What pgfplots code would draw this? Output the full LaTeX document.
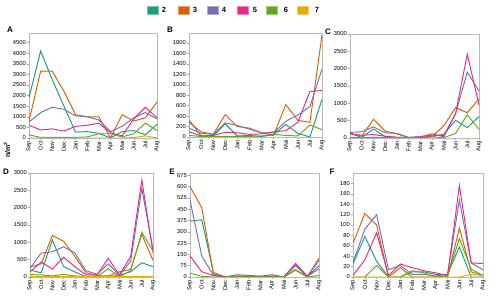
\documentclass[border=0pt]{standalone}
\usepackage{fontspec}
\setmainfont{Liberation Sans}
\usepackage{pgfplots}
\pgfplotsset{compat=1.18}

% Dark2 palette, one colour per group
\definecolor{g2}{HTML}{1B9E77}
\definecolor{g3}{HTML}{D95F02}
\definecolor{g4}{HTML}{7570B3}
\definecolor{g5}{HTML}{E7298A}
\definecolor{g6}{HTML}{66A61E}
\definecolor{g7}{HTML}{E6AB02}

\newcommand{\ticksize}{\fontsize{5.8}{6.5}\selectfont}

\pgfplotsset{
  panel/.style={
    scale only axis,
    xmin=0, xmax=11,
    xtick={0,...,11},
    xticklabels={Sep,Oct,Nov,Dec,Jan,Feb,Mar,Apr,Mai,Jun,Jul,Aug},
    x tick label style={rotate=90, anchor=east, font=\ticksize, inner sep=1pt},
    y tick label style={font=\ticksize, inner sep=1pt},
    /pgf/number format/1000 sep={},
    /pgf/number format/assume math mode=true,
    scaled y ticks=false,
    tick align=outside,
    xtick pos=bottom, ytick pos=left,
    major tick length=2pt,
    tick style={gray!70, line width=0.4pt},
    axis line style={gray!55, line width=0.9pt},
    every axis plot/.append style={line width=0.95pt, mark=none},
    clip=true,
  },
}

\begin{document}
\begin{tikzpicture}[x=1pt,y=1pt]
\path[use as bounding box] (0,0) rectangle (500,307);

% ---------------- A ----------------
\begin{axis}[panel, at={(29pt,169pt)}, anchor=south west,
  width=128pt, height=105pt, ymin=0, ymax=4950,
  ytick={0,500,...,4500}]
\addplot[g2] coordinates {(0,1900)(1,4100)(2,2750)(3,1500)(4,280)(5,300)(6,220)(7,0)(8,300)(9,350)(10,150)(11,650)};
\addplot[g3] coordinates {(0,800)(1,3150)(2,3150)(3,2200)(4,1100)(5,1000)(6,1000)(7,0)(8,1100)(9,800)(10,950)(11,1700)};
\addplot[g4] coordinates {(0,750)(1,1200)(2,1450)(3,1350)(4,1050)(5,1000)(6,850)(7,300)(8,550)(9,950)(10,1200)(11,900)};
\addplot[g5] coordinates {(0,600)(1,380)(2,430)(3,330)(4,550)(5,600)(6,700)(7,250)(8,100)(9,900)(10,1450)(11,950)};
\addplot[g6] coordinates {(0,150)(1,30)(2,30)(3,30)(4,30)(5,50)(6,200)(7,200)(8,50)(9,200)(10,700)(11,350)};
\addplot[g7] coordinates {(0,0)(1,0)(2,0)(3,0)(4,0)(5,0)(6,0)(7,0)(8,0)(9,20)(10,100)(11,0)};
\end{axis}

% ---------------- B ----------------
\begin{axis}[panel, at={(189pt,170pt)}, anchor=south west,
  width=133pt, height=104pt, ymin=0, ymax=1990,
  ytick={0,200,...,1800}]
\addplot[g2] coordinates {(0,330)(1,20)(2,20)(3,250)(4,20)(5,30)(6,10)(7,40)(8,240)(9,70)(10,0)(11,720)};
\addplot[g3] coordinates {(0,280)(1,100)(2,50)(3,430)(4,200)(5,170)(6,80)(7,30)(8,620)(9,320)(10,280)(11,1950)};
\addplot[g4] coordinates {(0,170)(1,70)(2,50)(3,270)(4,220)(5,150)(6,80)(7,80)(8,300)(9,420)(10,580)(11,1300)};
\addplot[g5] coordinates {(0,100)(1,20)(2,30)(3,90)(4,80)(5,50)(6,60)(7,100)(8,120)(9,280)(10,870)(11,890)};
\addplot[g6] coordinates {(0,30)(1,10)(2,10)(3,10)(4,10)(5,10)(6,20)(7,50)(8,30)(9,20)(10,230)(11,140)};
\addplot[g7] coordinates {(0,0)(1,0)(2,0)(3,0)(4,0)(5,0)(6,0)(7,0)(8,0)(9,0)(10,0)(11,0)};
\end{axis}

% ---------------- C ----------------
\begin{axis}[panel, at={(350pt,169pt)}, anchor=south west,
  width=129pt, height=104pt, ymin=0, ymax=3000,
  ytick={0,500,...,3000}]
\addplot[g2] coordinates {(0,140)(1,10)(2,260)(3,40)(4,20)(5,10)(6,10)(7,40)(8,110)(9,510)(10,300)(11,620)};
\addplot[g3] coordinates {(0,130)(1,50)(2,540)(3,200)(4,120)(5,10)(6,20)(7,50)(8,350)(9,880)(10,730)(11,1130)};
\addplot[g4] coordinates {(0,160)(1,180)(2,320)(3,150)(4,130)(5,20)(6,40)(7,80)(8,70)(9,700)(10,1900)(11,1350)};
\addplot[g5] coordinates {(0,120)(1,80)(2,100)(3,50)(4,20)(5,10)(6,30)(7,120)(8,40)(9,700)(10,2420)(11,950)};
\addplot[g6] coordinates {(0,10)(1,10)(2,10)(3,10)(4,10)(5,10)(6,10)(7,30)(8,10)(9,130)(10,670)(11,250)};
\addplot[g7] coordinates {(0,0)(1,0)(2,0)(3,0)(4,0)(5,0)(6,0)(7,0)(8,0)(9,0)(10,0)(11,0)};
\end{axis}

% ---------------- D ----------------
\begin{axis}[panel, at={(30pt,30pt)}, anchor=south west,
  width=123pt, height=104pt, ymin=0, ymax=3000,
  ytick={0,500,...,3000}]
\addplot[g2] coordinates {(0,200)(1,120)(2,1070)(3,300)(4,150)(5,10)(6,10)(7,10)(8,50)(9,150)(10,410)(11,300)};
\addplot[g3] coordinates {(0,290)(1,380)(2,1200)(3,1030)(4,600)(5,120)(6,40)(7,30)(8,150)(9,220)(10,1230)(11,480)};
\addplot[g4] coordinates {(0,250)(1,690)(2,730)(3,870)(4,700)(5,180)(6,80)(7,380)(8,50)(9,450)(10,2550)(11,800)};
\addplot[g5] coordinates {(0,150)(1,430)(2,230)(3,570)(4,300)(5,60)(6,60)(7,540)(8,60)(9,590)(10,2800)(11,700)};
\addplot[g6] coordinates {(0,70)(1,60)(2,30)(3,80)(4,30)(5,10)(6,10)(7,240)(8,10)(9,180)(10,1290)(11,750)};
\addplot[g7, line width=1.3pt] coordinates {(0,10)(1,10)(2,10)(3,10)(4,10)(5,10)(6,10)(7,10)(8,10)(9,10)(10,10)(11,10)};
\end{axis}

% ---------------- E ----------------
\begin{axis}[panel, at={(190pt,30pt)}, anchor=south west,
  width=129pt, height=104pt, ymin=0, ymax=690,
  ytick={0,75,...,675}]
\addplot[g2] coordinates {(0,370)(1,380)(2,30)(3,0)(4,5)(5,5)(6,0)(7,5)(8,0)(9,75)(10,5)(11,75)};
\addplot[g3] coordinates {(0,600)(1,460)(2,20)(3,0)(4,5)(5,5)(6,0)(7,5)(8,0)(9,50)(10,0)(11,125)};
\addplot[g4] coordinates {(0,510)(1,140)(2,10)(3,0)(4,5)(5,5)(6,5)(7,5)(8,0)(9,80)(10,5)(11,110)};
\addplot[g5] coordinates {(0,140)(1,35)(2,10)(3,0)(4,15)(5,10)(6,5)(7,15)(8,0)(9,90)(10,5)(11,55)};
\addplot[g6] coordinates {(0,25)(1,5)(2,0)(3,0)(4,5)(5,5)(6,5)(7,5)(8,0)(9,45)(10,0)(11,10)};
\addplot[g7] coordinates {(0,0)(1,0)(2,0)(3,0)(4,0)(5,0)(6,0)(7,0)(8,0)(9,0)(10,0)(11,0)};
\end{axis}

% ---------------- F ----------------
\begin{axis}[panel, at={(353pt,30pt)}, anchor=south west,
  width=130pt, height=104pt, ymin=0, ymax=200,
  ytick={0,20,...,180}]
\addplot[g2] coordinates {(0,25)(1,78)(2,30)(3,0)(4,0)(5,10)(6,10)(7,5)(8,5)(9,58)(10,0)(11,0)};
\addplot[g3] coordinates {(0,65)(1,122)(2,100)(3,0)(4,18)(5,0)(6,0)(7,0)(8,0)(9,94)(10,10)(11,2)};
\addplot[g4] coordinates {(0,28)(1,92)(2,120)(3,14)(4,22)(5,5)(6,5)(7,2)(8,5)(9,148)(10,27)(11,14)};
\addplot[g5] coordinates {(0,3)(1,33)(2,85)(3,3)(4,25)(5,18)(6,12)(7,8)(8,2)(9,176)(10,27)(11,26)};
\addplot[g6] coordinates {(0,0)(1,0)(2,22)(3,0)(4,0)(5,12)(6,8)(7,0)(8,2)(9,74)(10,15)(11,3)};
\addplot[g7] coordinates {(0,0)(1,0)(2,0)(3,0)(4,0)(5,0)(6,0)(7,0)(8,0)(9,0)(10,5)(11,3)};
\end{axis}

% panel letters
\begin{scope}[every node/.style={font=\fontsize{8}{9}\selectfont\bfseries, inner sep=0pt}]
\node at (10,277) {A};
\node at (170,277) {B};
\node at (328,275) {C};
\node at (6,135) {D};
\node at (172,135) {E};
\node at (332,135) {F};
\end{scope}

% common y label
\node[rotate=90, font=\fontsize{7}{8}\selectfont\bfseries, inner sep=0pt] at (7,157) {n/m\textsuperscript{2}};

% group key
\begin{scope}[every node/.style={font=\fontsize{7.5}{8}\selectfont\bfseries, inner sep=0pt}]
\foreach \c/\xl/\xt/\t in {g2/147/164/2, g3/178/195/3, g4/207/224/4, g5/237/255/5, g6/266/286/6, g7/297/317/7}{
  \filldraw[fill=\c, draw=\c!60!white, line width=0.5pt] (\xl,293) rectangle (\xl+11,301);
  \node at (\xt,297) {\t};
}
\end{scope}
\end{tikzpicture}
\end{document}
